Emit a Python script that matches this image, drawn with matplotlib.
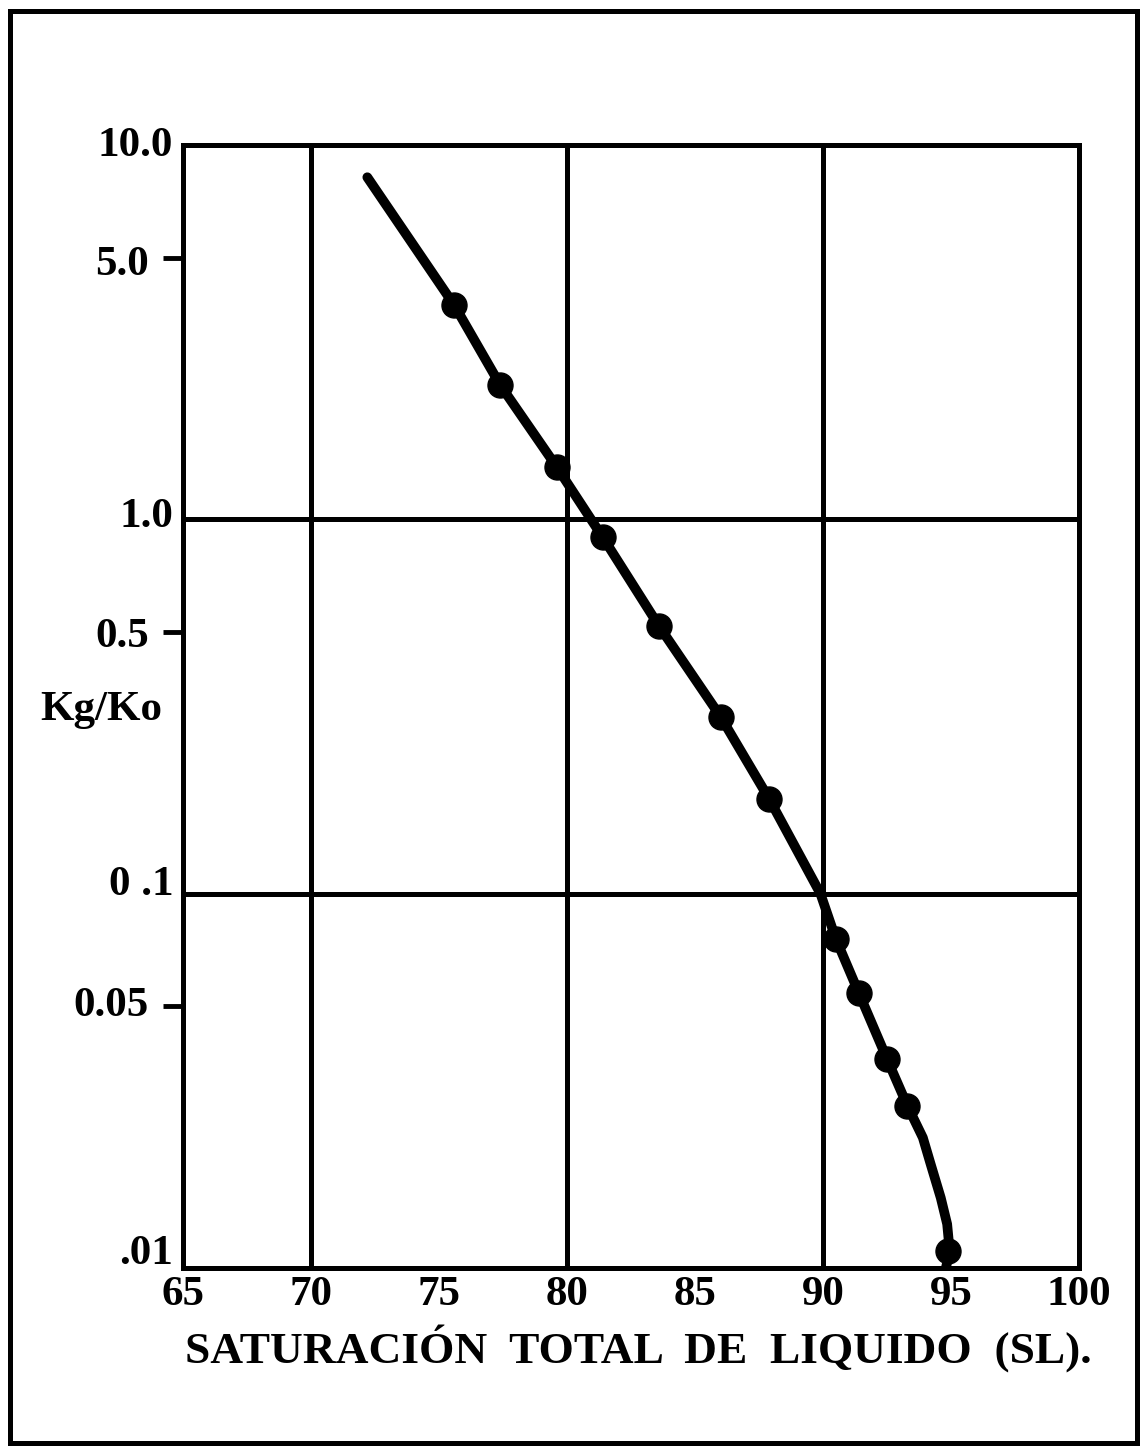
import matplotlib
matplotlib.use("Agg")
import matplotlib.pyplot as plt
from matplotlib.patches import Rectangle
from matplotlib.transforms import ScaledTranslation

# ---- data ----
marker_x = [75.6, 77.4, 79.6, 81.4, 83.6, 86.0, 87.9, 90.5, 91.4, 92.5, 93.3, 94.9]
marker_y = [3.73, 2.28, 1.38, 0.895, 0.518, 0.297, 0.179, 0.0758, 0.0543, 0.0362, 0.0271, 0.0111]

curve_x = [72.2, 75.6, 77.4, 79.6, 81.4, 83.6, 86.0, 87.9, 89.9, 90.5, 91.4, 92.5, 93.3,
           93.9, 94.2, 94.6, 94.85, 94.95, 94.8]
curve_y = [8.2, 3.73, 2.28, 1.38, 0.895, 0.518, 0.297, 0.179, 0.1, 0.0758, 0.0543, 0.0362, 0.0271,
           0.0223, 0.019, 0.0154, 0.0131, 0.0111, 0.0100]

x_ticks = [65, 70, 75, 80, 85, 90, 95, 100]
x_tick_labels = ["65", "70", "75", "80", "85", "90", "95", "100"]
x_grid = [70, 80, 90]
x_minor_marks = [75, 85, 95]

y_major = [10.0, 1.0, 0.1, 0.01]
y_major_labels = ["10.0", "1.0", "0 .1", ".01"]
y_minor = [5.0, 0.5, 0.05]
y_minor_labels = ["5.0", "0.5", "0.05"]
y_grid = [1.0, 0.1]

x_label = "SATURACIÓN  TOTAL  DE  LIQUIDO  (SL)."
y_label = "Kg/Ko"

# ---- figure ----
W, H = 1143, 1447
fig = plt.figure(figsize=(W / 100, H / 100), dpi=100)
fig.patch.set_facecolor("white")
FONT = ["Liberation Serif", "DejaVu Serif"]
LW = 3.6  # ~5 px

ax = fig.add_axes([183 / W, 1 - 1268 / H, 896 / W, 1123 / H])
ax.set_yscale("log")
ax.set_xlim(65, 100)
ax.set_ylim(0.01, 10)

for s in ax.spines.values():
    s.set_linewidth(LW)
    s.set_color("black")

for gx in x_grid:
    ax.axvline(gx, color="black", lw=LW, zorder=1)
for gy in y_grid:
    ax.axhline(gy, color="black", lw=LW, zorder=1)

# x ticks: labels at all, inward marks only at 75/85/95
ax.set_xticks(x_ticks, labels=x_tick_labels)
ax.tick_params(axis="x", which="major", length=0, pad=6)
ax.set_xticks(x_minor_marks, minor=True)
ax.tick_params(axis="x", which="minor", direction="in", length=18, width=3, color="black")

# y ticks
ax.set_yticks(y_major, labels=y_major_labels)
ax.tick_params(axis="y", which="major", length=0, pad=7)
ax.set_yticks(y_minor, labels=y_minor_labels, minor=True)
ax.tick_params(axis="y", which="minor", direction="out", length=14.5, width=3.5,
               pad=10, color="black")

for lab in ax.get_xticklabels() + ax.get_yticklabels() + \
        ax.get_yticklabels(minor=True):
    lab.set_fontfamily(FONT)
    lab.set_fontweight("bold")
    lab.set_fontsize(31)

# small vertical shifts of the y labels (px, up positive)
major_shift = [4, 7, 13, 18]
minor_shift = [-3, 0, 5]
for t, d in zip(ax.yaxis.get_major_ticks(), major_shift):
    t.label1.set_transform(t.label1.get_transform() +
                           ScaledTranslation(0, d / 100, fig.dpi_scale_trans))
for t, d in zip(ax.yaxis.get_minor_ticks(), minor_shift):
    t.label1.set_transform(t.label1.get_transform() +
                           ScaledTranslation(0, d / 100, fig.dpi_scale_trans))

ax.plot(curve_x, curve_y, color="black", lw=7, solid_capstyle="round",
        solid_joinstyle="round", zorder=3)
ax.plot(marker_x, marker_y, linestyle="none", marker="o", markersize=18,
        color="black", zorder=4)

fig.text(185 / W, 1 - 1363 / H, x_label, ha="left", va="baseline",
         fontsize=32.7, fontweight="bold", family=FONT)
fig.text(40 / W, 1 - 720 / H, y_label, ha="left", va="baseline",
         fontsize=31, fontweight="bold", family=FONT)

# outer frame
fig.patches.append(Rectangle((10 / W, 1 - 1443 / H), (1137 - 10) / W, (1443 - 11) / H,
                             transform=fig.transFigure, fill=False,
                             edgecolor="black", linewidth=LW))

fig.savefig("out.png", dpi=100)
